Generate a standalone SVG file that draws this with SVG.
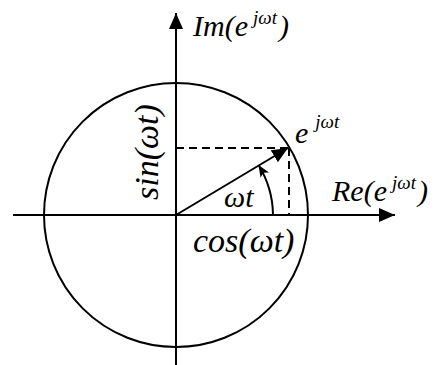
<svg xmlns="http://www.w3.org/2000/svg" width="447" height="365" viewBox="0 0 447 365">
<defs>
<marker id="ah" markerWidth="16" markerHeight="14" refX="16" refY="7" orient="auto" markerUnits="userSpaceOnUse">
<path d="M0,0 L16,7 L0,14 Z" fill="#000"/>
</marker>
<marker id="sh" markerWidth="12" markerHeight="10" refX="12" refY="5" orient="auto" markerUnits="userSpaceOnUse">
<path d="M0,0 L12,5 L0,10 L3,5 Z" fill="#000"/>
</marker>
</defs>
<g id="circle" stroke="#000" stroke-width="2" fill="none">
<circle cx="176" cy="215" r="132"/>
</g>
<g id="connectors" stroke="#000" stroke-width="2" fill="none">
<line id="x-axis" x1="13" y1="215" x2="395" y2="215" marker-end="url(#ah)"/>
<line id="y-axis" x1="176" y1="365" x2="176" y2="13" marker-end="url(#ah)"/>
<line id="vector" x1="176" y1="215" x2="288" y2="148" marker-end="url(#ah)"/>
<g stroke-dasharray="8 5">
<line id="dash-h" x1="176" y1="148" x2="288" y2="148"/>
<line id="dash-v" x1="289" y1="148" x2="289" y2="215"/>
</g>
<path id="angle-arc" d="M273,215 A97,97 0 0 0 258.5,165" marker-end="url(#sh)"/>
</g>
<text id="label-im" font-family="Liberation Serif" font-style="italic" font-size="30" x="193" y="36">Im(e<tspan font-size="19" dx="5" dy="-12">jωt</tspan><tspan dx="2" dy="12">)</tspan></text>
<text id="label-re" font-family="Liberation Serif" font-style="italic" font-size="30" x="332" y="201">Re(e<tspan font-size="19" dx="5" dy="-12">jωt</tspan><tspan dx="2" dy="12">)</tspan></text>
<text id="label-ejwt" font-family="Liberation Serif" font-style="italic" font-size="30" x="295" y="143">e<tspan font-size="19" dx="7" dy="-15">jωt</tspan></text>
<text id="label-wt" font-family="Liberation Serif" font-style="italic" font-size="30" x="224" y="207">ωt</text>
<text id="label-cos" font-family="Liberation Serif" font-style="italic" font-size="34" x="193" y="252">cos(ωt)</text>
<text id="label-sin" font-family="Liberation Serif" font-style="italic" font-size="34" transform="translate(158,200) rotate(-90)">sin(ωt)</text>
</svg>
